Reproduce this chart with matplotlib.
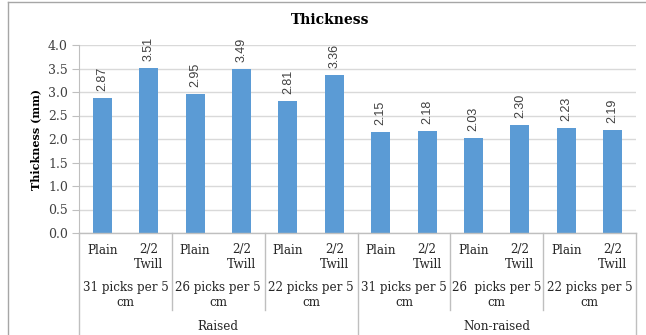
import matplotlib.pyplot as plt
from matplotlib.lines import Line2D
import matplotlib.transforms as mtransforms

# Fabric thickness by weave, pick density and finishing
weaves = ['Plain', '2/2\nTwill'] * 6
densities = ['31 picks per 5\ncm', '26 picks per 5\ncm', '22 picks per 5\ncm',
             '31 picks per 5\ncm', '26  picks per 5\ncm', '22 picks per 5\ncm']
finishes = ['Raised', 'Non-raised']
thickness = [2.87, 3.51, 2.95, 3.49, 2.81, 3.36, 2.15, 2.18, 2.03, 2.30, 2.23, 2.19]
yticks = [0.0, 0.5, 1.0, 1.5, 2.0, 2.5, 3.0, 3.5, 4.0]

W, H = 646, 335
bar_color = '#5B9BD5'
grid_color = '#D9D9D9'
line_color = '#BFBFBF'
text_color = '#262626'
serif = 'DejaVu Serif'
label_font = ['Liberation Sans Narrow', 'Liberation Sans', 'DejaVu Sans']
cat_size = 8.6

fig = plt.figure(figsize=(W / 100, H / 100), dpi=100)
fig.patch.set_facecolor('white')

# plot area in pixels
px_l, px_r, px_t, px_b = 79, 636, 45, 233
ax = fig.add_axes([px_l / W, (H - px_b) / H, (px_r - px_l) / W, (px_b - px_t) / H])

x = list(range(len(thickness)))
ax.bar(x, thickness, width=0.41, color=bar_color, zorder=3)
for xi, v in zip(x, thickness):
    ax.annotate(f'{v:.2f}', (xi, v), xytext=(0, 5), textcoords='offset points',
                rotation=90, ha='center', va='bottom', fontsize=9,
                family=label_font, color='#404040')

ax.set_xlim(-0.5, len(thickness) - 0.5)
ax.set_ylim(0, 4)
ax.set_yticks(yticks)
ax.set_yticklabels([f'{t:.1f}' for t in yticks], family=serif, fontsize=9, color='#404040')
ax.set_xticks([])
ax.yaxis.grid(True, color=grid_color, linewidth=1, zorder=0)
ax.tick_params(axis='y', length=5, color=line_color, pad=3)
for side in ['top', 'right', 'bottom']:
    ax.spines[side].set_visible(False)
ax.spines['left'].set_color(line_color)
ax.set_ylabel('Thickness (mm)', family=serif, fontsize=8, fontweight='bold', labelpad=5)

fig.text(330 / W, 1 - 20 / H, 'Thickness', family=serif, fontsize=10,
         fontweight='bold', ha='center', va='center')

# multi-level category axis below the plot
trans = mtransforms.blended_transform_factory(ax.transData, fig.transFigure)

def fy(py):
    return 1 - py / H

def vline(xd, y0, y1):
    fig.add_artist(Line2D([xd, xd], [fy(y0), fy(y1)], transform=trans,
                          color=line_color, linewidth=1))

fig.add_artist(Line2D([-0.5, len(thickness) - 0.5], [fy(px_b), fy(px_b)],
                      transform=trans, color=line_color, linewidth=1))

for xi, name in zip(x, weaves):
    if name == 'Plain':
        fig.text(xi, fy(250), name, transform=trans, ha='center', va='center',
                 family=serif, fontsize=cat_size, color=text_color)
    else:
        fig.text(xi, fy(257), name, transform=trans, ha='center', va='center',
                 multialignment='center', family=serif, fontsize=cat_size,
                 color=text_color, linespacing=1.1)

for i, name in enumerate(densities):
    fig.text(2 * i + 0.5, fy(295), name, transform=trans, ha='center', va='center',
             multialignment='center', family=serif, fontsize=cat_size,
             color=text_color, linespacing=1.25)
    if i not in (0, 3):
        vline(2 * i - 0.5, px_b, 310)

for i, name in enumerate(finishes):
    fig.text(6 * i + 2.5, fy(326), name, transform=trans, ha='center', va='center',
             family=serif, fontsize=cat_size, color=text_color)

for xd in (-0.5, 5.5, 11.5):
    vline(xd, px_b, H)

# chart frame
fig.add_artist(Line2D([8 / W, 8 / W], [fy(2), 0], transform=fig.transFigure,
                      color='#A6A6A6', linewidth=1))
fig.add_artist(Line2D([8 / W, 1], [fy(2), fy(2)], transform=fig.transFigure,
                      color='#A6A6A6', linewidth=1))

fig.savefig('out.png', dpi=100)
